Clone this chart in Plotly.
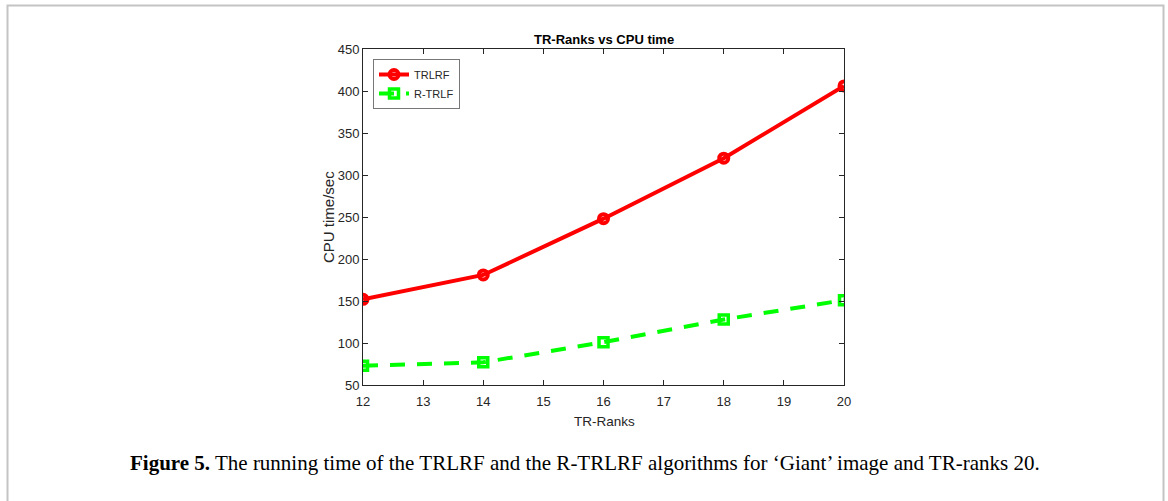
import plotly.graph_objects as go

ranks = [12, 14, 16, 18, 20]
trlrf = [152, 181, 248, 320, 406]
r_trlf = [73, 77, 101, 128, 151]
x_ticks = [12, 13, 14, 15, 16, 17, 18, 19, 20]
y_ticks = [50, 100, 150, 200, 250, 300, 350, 400, 450]

W, H = 1168, 501
L, R, T, B = 363, 844, 49, 385
pw, ph = R - L, B - T

def px(x):
    return (x - L) / pw

def py(y):
    return (B - y) / ph

axcol = "#262626"
fig = go.Figure()
fig.add_trace(go.Scatter(
    x=ranks, y=trlrf, name="TRLRF", mode="lines+markers",
    line=dict(color="#ff0000", width=4),
    marker=dict(symbol="circle-open", size=9, color="#ff0000", line=dict(width=4, color="#ff0000")),
))
fig.add_trace(go.Scatter(
    x=ranks, y=r_trlf, name="R-TRLF", mode="lines+markers",
    line=dict(color="#00ff00", width=4, dash="15px,12px"),
    marker=dict(symbol="square-open", size=9, color="#00ff00", line=dict(width=3.5, color="#00ff00")),
))

axis_common = dict(
    showline=True, linecolor=axcol, linewidth=1, mirror="ticks",
    ticks="inside", ticklen=5, tickcolor=axcol, showgrid=False, zeroline=False,
    tickfont=dict(family="Arial, Liberation Sans, sans-serif", size=13, color=axcol),
)
fig.update_xaxes(range=[12, 20], tickvals=x_ticks, ticklabelstandoff=4, **axis_common)
fig.update_yaxes(range=[50, 450], tickvals=y_ticks, **axis_common)

fig.update_layout(
    width=W, height=H,
    margin=dict(l=L, r=W - R, t=T, b=H - B, pad=0),
    paper_bgcolor="white", plot_bgcolor="white",
    showlegend=True,
    legend=dict(
        x=px(373), y=py(59), xanchor="left", yanchor="top",
        bgcolor="white", bordercolor="#777777", borderwidth=1,
        font=dict(family="Arial, Liberation Sans, sans-serif", size=11, color=axcol),
        tracegroupgap=0, itemwidth=30,
    ),
    font=dict(family="Arial, Liberation Sans, sans-serif", color=axcol),
)

ann = [
    dict(text="<b>TR-Ranks vs CPU time</b>", x=px(604), y=py(39), font=dict(size=13, color="black")),
    dict(text="TR-Ranks", x=px(604), y=py(421), font=dict(size=13.5, color=axcol)),
    dict(text="CPU time/sec", x=px(328), y=py(217), textangle=-90, font=dict(size=15, color=axcol)),
]
for a in ann:
    fig.add_annotation(xref="paper", yref="paper", showarrow=False,
                       xanchor="center", yanchor="middle", **a)

fig.add_annotation(
    xref="paper", yref="paper", showarrow=False, xanchor="left", yanchor="middle",
    x=px(128), y=py(463),
    text="<b>Figure 5.</b> The running time of the TRLRF and the R-TRLRF algorithms for \u2018Giant\u2019 image and TR-ranks 20.",
    font=dict(family="Liberation Serif, Times New Roman, serif", size=21, color="black"),
)

fig.add_shape(type="rect", xref="paper", yref="paper",
              x0=px(7.5), x1=px(1163.5), y0=py(520), y1=py(5.5),
              line=dict(color="#c4c4c4", width=2), fillcolor="rgba(0,0,0,0)", layer="below")

fig.write_html("out.html")
